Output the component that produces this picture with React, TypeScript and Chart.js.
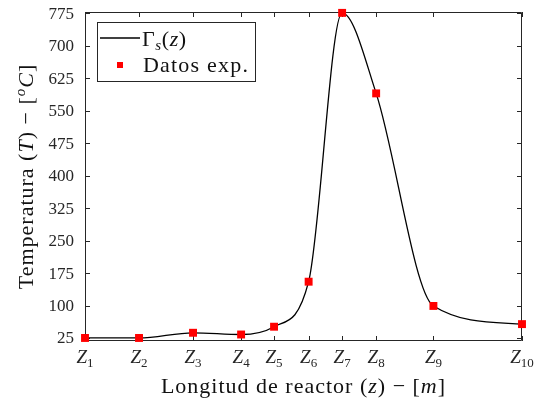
import React, { useEffect, useRef } from "react";
import { Chart, registerables } from "chart.js";
Chart.register(...registerables);

// ---- data ----
const zSubscripts = ["1", "2", "3", "4", "5", "6", "7", "8", "9", "10"];
const zPositions = [0, 1, 2, 2.89, 3.5, 4.14, 4.76, 5.39, 6.45, 8.09];
const tempValues = [25, 25, 37, 33, 51, 155, 776, 590, 99, 57];
const yTickValues = [25, 100, 175, 250, 325, 400, 475, 550, 625, 700, 775];
const yMin = 18;
const yMax = 778;
const xMin = 0;
const xMax = 8.09;

const FONT = '"Liberation Serif", "Times New Roman", serif';
const AXIS_COLOR = "#262626";

type Seg = { t: string; it?: boolean; size: number; dy?: number };

function segFont(s: Seg) {
  return `${s.it ? "italic " : ""}${s.size}px ${FONT}`;
}

function richWidth(ctx: CanvasRenderingContext2D, segs: Seg[]) {
  let w = 0;
  for (const s of segs) {
    ctx.font = segFont(s);
    w += ctx.measureText(s.t).width;
  }
  return w;
}

function drawRich(
  ctx: CanvasRenderingContext2D,
  segs: Seg[],
  x: number,
  y: number,
  align: "left" | "center"
) {
  const w = richWidth(ctx, segs);
  let cx = align === "center" ? x - w / 2 : x;
  ctx.textAlign = "left";
  ctx.textBaseline = "alphabetic";
  for (const s of segs) {
    ctx.font = segFont(s);
    ctx.fillText(s.t, cx, y + (s.dy || 0));
    cx += ctx.measureText(s.t).width;
  }
}

const framePlugin = {
  id: "matlabFrame",
  beforeDatasetsDraw(chart: any) {
    const { ctx, chartArea } = chart;
    const { left, right, top, bottom } = chartArea;
    const xs = chart.scales.x;
    const ys = chart.scales.y;
    ctx.save();
    ctx.strokeStyle = AXIS_COLOR;
    ctx.lineWidth = 1;
    ctx.beginPath();
    ctx.rect(Math.round(left) + 0.5, Math.round(top) + 0.5, Math.round(right - left) - 1, Math.round(bottom - top) - 1);
    ctx.stroke();
    const tl = 5;
    ctx.beginPath();
    for (const t of xs.ticks) {
      const px = Math.round(xs.getPixelForValue(t.value)) + 0.5;
      ctx.moveTo(px, bottom);
      ctx.lineTo(px, bottom - tl);
      ctx.moveTo(px, top);
      ctx.lineTo(px, top + tl);
    }
    for (const t of ys.ticks) {
      const py = Math.round(ys.getPixelForValue(t.value)) + 0.5;
      ctx.moveTo(left, py);
      ctx.lineTo(left + tl, py);
      ctx.moveTo(right, py);
      ctx.lineTo(right - tl, py);
    }
    ctx.stroke();
    ctx.restore();
  },
  afterDraw(chart: any) {
    const { ctx, chartArea } = chart;
    const { left, right, top, bottom } = chartArea;
    const xs = chart.scales.x;
    const ys = chart.scales.y;
    ctx.save();
    ctx.fillStyle = AXIS_COLOR;
    // y tick labels
    ctx.font = `17px ${FONT}`;
    ctx.textAlign = "right";
    ctx.textBaseline = "middle";
    for (const t of ys.ticks) {
      const py = ys.getPixelForValue(t.value);
      ctx.fillText(String(t.value), left - 11, py + 1);
    }
    // x tick labels
    xs.ticks.forEach((t: any, i: number) => {
      const px = xs.getPixelForValue(t.value);
      drawRich(
        ctx,
        [
          { t: "Z", it: true, size: 19 },
          { t: zSubscripts[i], size: 13, dy: 4 },
        ],
        px,
        bottom + 22,
        "center"
      );
    });

    // axis titles
    ctx.fillStyle = "#111";
    (ctx as any).letterSpacing = "1px";
    drawRich(
      ctx,
      [
        { t: "Longitud de reactor (", size: 22 },
        { t: "z", it: true, size: 22 },
        { t: ") \u2212 [", size: 22 },
        { t: "m", it: true, size: 22 },
        { t: "]", size: 22 },
      ],
      (left + right) / 2,
      393,
      "center"
    );
    ctx.save();
    ctx.translate(33, (top + bottom) / 2);
    ctx.rotate(-Math.PI / 2);
    drawRich(
      ctx,
      [
        { t: "Temperatura (", size: 22 },
        { t: "T", it: true, size: 22 },
        { t: ") \u2212 [", size: 22 },
        { t: "o", it: true, size: 15, dy: -8 },
        { t: "C", it: true, size: 22 },
        { t: "]", size: 22 },
      ],
      0,
      0,
      "center"
    );
    ctx.restore();
    (ctx as any).letterSpacing = "0px";

    // legend
    const bx = 97.5, by = 22.5, bw = 158, bh = 59;
    ctx.fillStyle = "#ffffff";
    ctx.fillRect(bx, by, bw, bh);
    ctx.strokeStyle = AXIS_COLOR;
    ctx.lineWidth = 1;
    ctx.strokeRect(bx, by, bw, bh);
    ctx.strokeStyle = "#000";
    ctx.lineWidth = 1.3;
    ctx.beginPath();
    ctx.moveTo(100, 38);
    ctx.lineTo(140, 38);
    ctx.stroke();
    ctx.fillStyle = "#ff0000";
    ctx.fillRect(117, 62, 6, 6);
    ctx.fillStyle = "#111";
    (ctx as any).letterSpacing = "0.6px";
    drawRich(
      ctx,
      [
        { t: "\u0393", size: 22 },
        { t: "s", it: true, size: 15, dy: 4 },
        { t: "(", size: 22 },
        { t: "z", it: true, size: 22 },
        { t: ")", size: 22 },
      ],
      142,
      46,
      "left"
    );
    (ctx as any).letterSpacing = "1.2px";
    drawRich(ctx, [{ t: "Datos exp.", size: 22 }], 143, 72, "left");
    (ctx as any).letterSpacing = "0px";
    ctx.restore();
  },
};

export default function App() {
  const ref = useRef<HTMLCanvasElement | null>(null);
  useEffect(() => {
    if (!ref.current) return;
    const pts = zPositions.map((x, i) => ({ x, y: tempValues[i] }));
    const chart = new Chart(ref.current, {
      type: "scatter",
      data: {
        datasets: [
          {
            label: "Gamma",
            data: pts,
            showLine: true,
            borderColor: "#000000",
            borderWidth: 1.3,
            pointRadius: 0,
            cubicInterpolationMode: "monotone",
            clip: false,
            order: 2,
          } as any,
          {
            label: "Datos exp.",
            data: pts,
            showLine: false,
            pointStyle: "rect",
            pointRadius: 5.6,
            pointBorderWidth: 0,
            backgroundColor: "#ff0000",
            borderColor: "#ff0000",
            clip: false,
            order: 1,
          } as any,
        ],
      },
      options: {
        responsive: false,
        animation: false,
        devicePixelRatio: 1,
        layout: { padding: { left: 85, top: 12, right: 16, bottom: 63 } },
        plugins: { legend: { display: false }, tooltip: { enabled: false } },
        events: [],
        scales: {
          x: {
            type: "linear",
            display: false,
            min: xMin,
            max: xMax,
            afterBuildTicks: (axis: any) => {
              axis.ticks = zPositions.map((v) => ({ value: v }));
            },
          },
          y: {
            type: "linear",
            display: false,
            min: yMin,
            max: yMax,
            afterBuildTicks: (axis: any) => {
              axis.ticks = yTickValues.map((v) => ({ value: v }));
            },
          },
        },
      },
      plugins: [framePlugin],
    });
    return () => chart.destroy();
  }, []);
  return (
    <div style={{ position: "absolute", left: 0, top: 0, width: 538, height: 404, background: "#fff" }}>
      <canvas ref={ref} width={538} height={404} style={{ width: 538, height: 404, display: "block" }} />
    </div>
  );
}
